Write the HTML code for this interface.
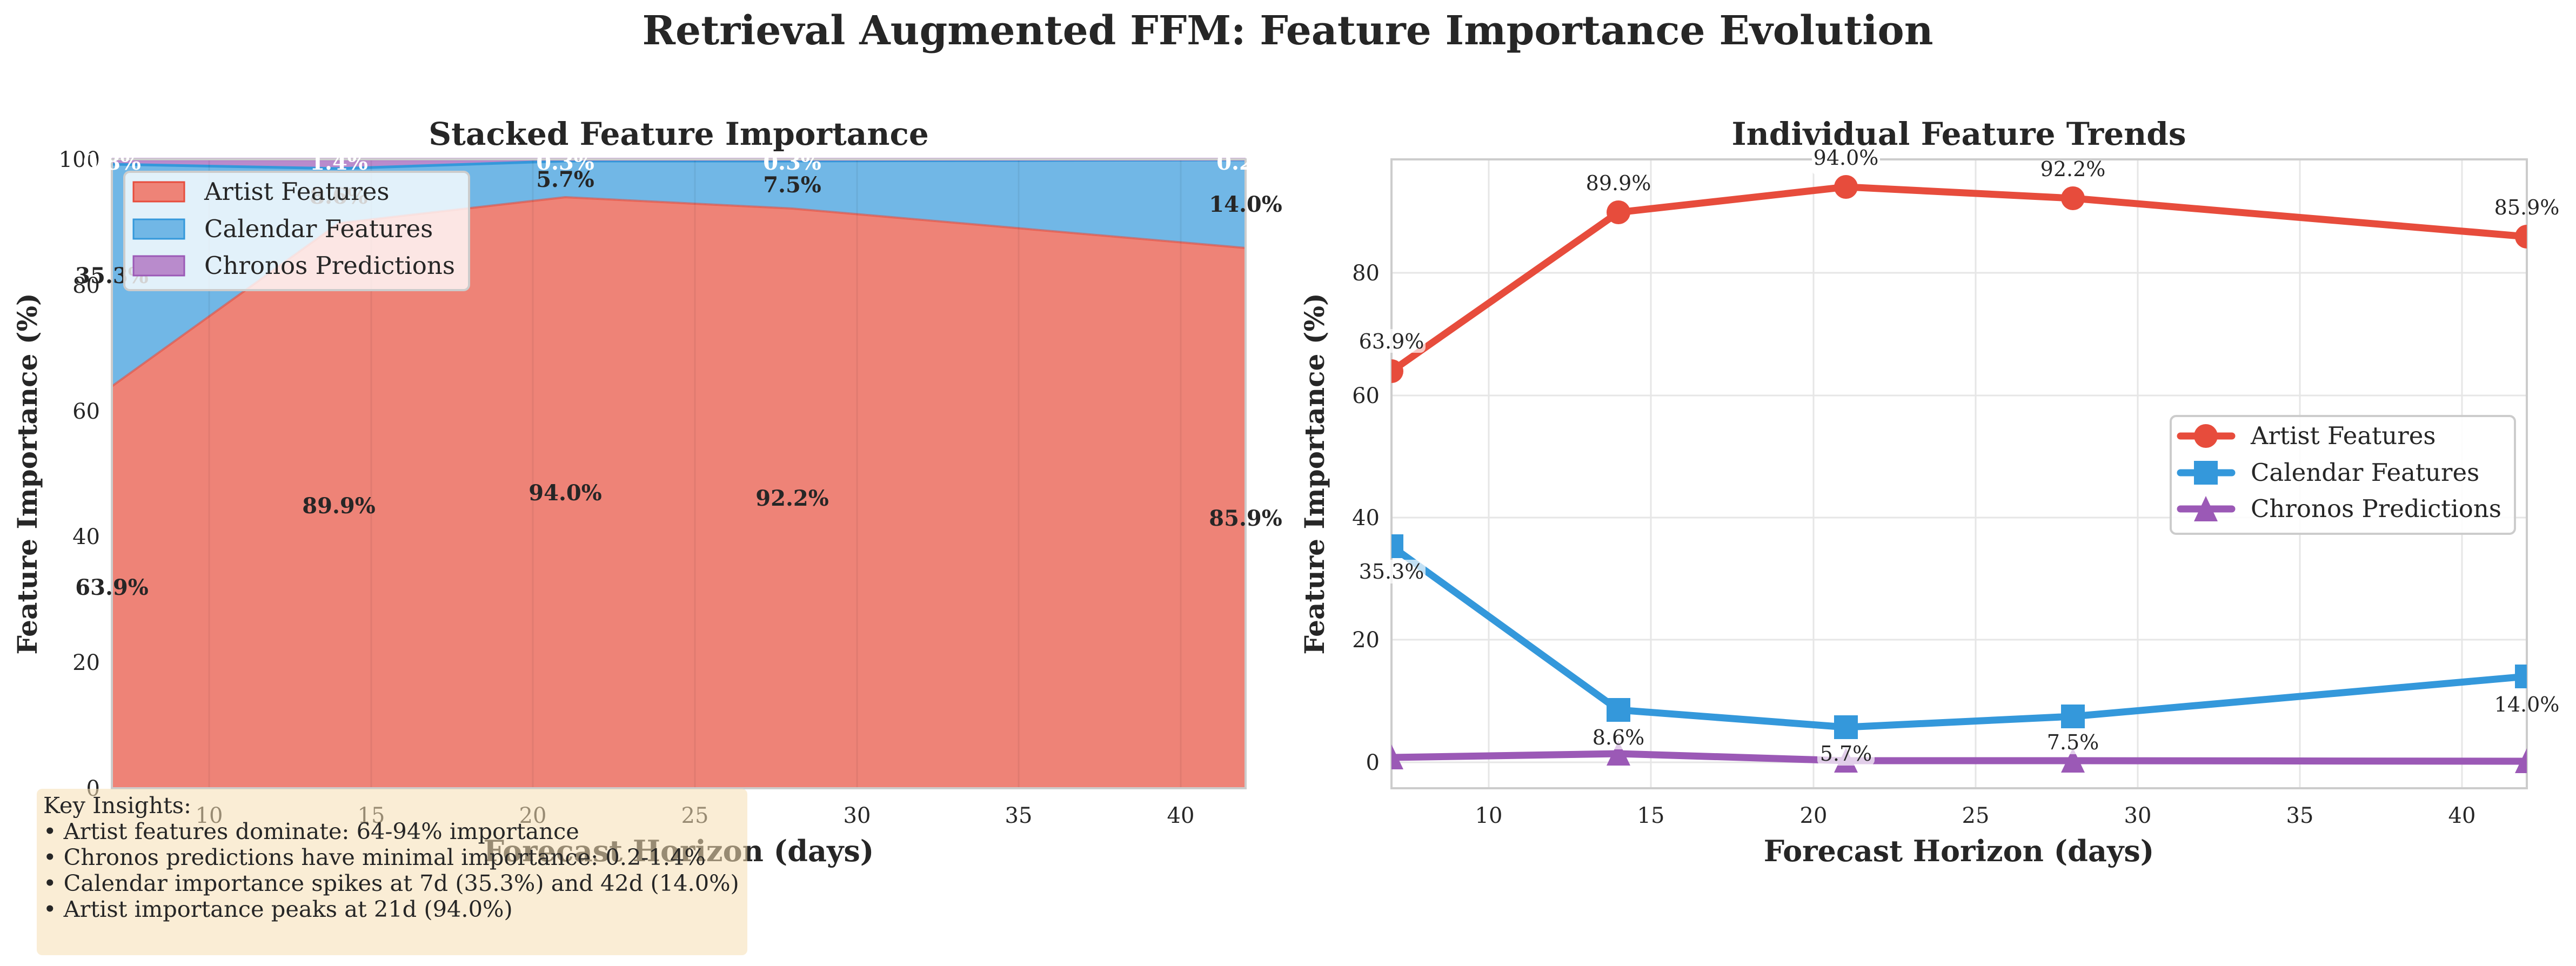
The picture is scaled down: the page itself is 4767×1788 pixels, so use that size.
<!DOCTYPE html>
<html><head><meta charset="utf-8"><style>
html,body{margin:0;padding:0;background:#fff}
svg{display:block}
text{font-family:"DejaVu Serif","Liberation Serif",serif;fill:#262626}
</style></head><body>
<svg width="4767" height="1788" viewBox="0 0 4767 1788" xmlns="http://www.w3.org/2000/svg">
<rect width="4767" height="1788" fill="#fff"/>
<text x="2383" y="82" font-size="74" font-weight="bold" text-anchor="middle">Retrieval Augmented FFM: Feature Importance Evolution</text>

<!-- LEFT -->
<text x="1256" y="268" font-size="58" font-weight="bold" text-anchor="middle">Stacked Feature Importance</text>
<rect x="207" y="295" width="2098" height="1164" fill="#fff"/>
<polygon points="207,1459 207,715 627,413 1046,365 1466,386 2305,459 2305,1459" fill="#ee8377"/>
<polygon points="207,715 627,413 1046,365 1466,386 2305,459 2305,296 1466,298 1046,298 627,312 207,304" fill="#71b7e6"/>
<polygon points="207,304 627,312 1046,298 1466,298 2305,296 2305,295 207,295" fill="#b98bcc"/>
<polyline points="207,715 627,413 1046,365 1466,386 2305,459" fill="none" stroke="#e74c3c" stroke-width="4" opacity="0.6"/>
<polyline points="207,304 627,312 1046,298 1466,298 2305,296" fill="none" stroke="#3498db" stroke-width="5"/>
<polyline points="207,295 2305,295" fill="none" stroke="#9b59b6" stroke-width="5"/>
<g stroke="#000" stroke-opacity="0.06" stroke-width="3">
<line x1="387" y1="295" x2="387" y2="1459"/><line x1="687" y1="295" x2="687" y2="1459"/><line x1="986" y1="295" x2="986" y2="1459"/><line x1="1286" y1="295" x2="1286" y2="1459"/><line x1="1586" y1="295" x2="1586" y2="1459"/><line x1="1885" y1="295" x2="1885" y2="1459"/><line x1="2185" y1="295" x2="2185" y2="1459"/>
</g>
<rect x="207" y="295" width="2098" height="1164" fill="none" stroke="#ccc" stroke-width="4"/>
<g font-size="40" text-anchor="end">
<text x="185" y="1473">0</text><text x="185" y="1240">20</text><text x="185" y="1007">40</text><text x="185" y="775">60</text><text x="185" y="542">80</text><text x="185" y="309">100</text>
</g>
<g font-size="40" text-anchor="middle">
<text x="387" y="1523">10</text><text x="687" y="1523">15</text><text x="986" y="1523">20</text><text x="1286" y="1523">25</text><text x="1586" y="1523">30</text><text x="1885" y="1523">35</text><text x="2185" y="1523">40</text>
</g>
<text x="1256" y="1594" font-size="54" font-weight="bold" text-anchor="middle">Forecast Horizon (days)</text>
<text transform="translate(68,877) rotate(-90)" font-size="50" font-weight="bold" text-anchor="middle">Feature Importance (%)</text>
<g font-size="40" font-weight="bold" text-anchor="middle">
<text x="207" y="1101">63.9%</text><text x="627" y="950">89.9%</text><text x="1046" y="926">94.0%</text><text x="1466" y="936">92.2%</text><text x="2305" y="973">85.9%</text>
<text x="207" y="524">35.3%</text><text x="627" y="377">8.6%</text><text x="1046" y="346">5.7%</text><text x="1466" y="356">7.5%</text><text x="2305" y="392">14.0%</text>
</g>
<g font-size="40" font-weight="bold" text-anchor="middle">
<text x="207" y="314" style="fill:#fff">0.8%</text><text x="627" y="314" style="fill:#fff">1.4%</text><text x="1046" y="314" style="fill:#fff">0.3%</text><text x="1466" y="314" style="fill:#fff">0.3%</text><text x="2305" y="314" style="fill:#fff">0.2%</text>
</g>
<rect x="230" y="318" width="638" height="219" rx="10" fill="#fff" fill-opacity="0.8" stroke="#ccc" stroke-width="4"/>
<rect x="247" y="337" width="94" height="36" fill="#ee8377" stroke="#e74c3c" stroke-width="3"/>
<rect x="247" y="406" width="94" height="36" fill="#71b7e6" stroke="#3498db" stroke-width="3"/>
<rect x="247" y="474" width="94" height="36" fill="#b98bcc" stroke="#9b59b6" stroke-width="3"/>
<g font-size="45"><text x="378" y="370">Artist Features</text><text x="378" y="439">Calendar Features</text><text x="378" y="507">Chronos Predictions</text></g>
<rect x="68" y="1460" width="1315" height="308" rx="10" fill="#f5deb3" fill-opacity="0.55"/>
<g font-size="41.5"><text x="80" y="1505">Key Insights:</text>
<text x="80" y="1553">• Artist features dominate: 64-94% importance</text>
<text x="80" y="1601">• Chronos predictions have minimal importance: 0.2-1.4%</text>
<text x="80" y="1649">• Calendar importance spikes at 7d (35.3%) and 42d (14.0%)</text>
<text x="80" y="1697">• Artist importance peaks at 21d (94.0%)</text></g>

<!-- RIGHT -->
<text x="3625" y="268" font-size="58" font-weight="bold" text-anchor="middle">Individual Feature Trends</text>
<g stroke="#e6e6e6" stroke-width="3">
<line x1="2575" y1="1411" x2="4676" y2="1411"/><line x1="2575" y1="1184" x2="4676" y2="1184"/><line x1="2575" y1="958" x2="4676" y2="958"/><line x1="2575" y1="732" x2="4676" y2="732"/><line x1="2575" y1="505" x2="4676" y2="505"/>
<line x1="2755" y1="295" x2="2755" y2="1459"/><line x1="3055" y1="295" x2="3055" y2="1459"/><line x1="3356" y1="295" x2="3356" y2="1459"/><line x1="3656" y1="295" x2="3656" y2="1459"/><line x1="3956" y1="295" x2="3956" y2="1459"/><line x1="4256" y1="295" x2="4256" y2="1459"/><line x1="4556" y1="295" x2="4556" y2="1459"/>
</g>
<rect x="2575" y="295" width="2101" height="1164" fill="none" stroke="#ccc" stroke-width="4"/>
<g font-size="40" text-anchor="end">
<text x="2553" y="1425">0</text><text x="2553" y="1198">20</text><text x="2553" y="972">40</text><text x="2553" y="746">60</text><text x="2553" y="519">80</text>
</g>
<g font-size="40" text-anchor="middle">
<text x="2755" y="1523">10</text><text x="3055" y="1523">15</text><text x="3356" y="1523">20</text><text x="3656" y="1523">25</text><text x="3956" y="1523">30</text><text x="4256" y="1523">35</text><text x="4556" y="1523">40</text>
</g>
<text x="3625" y="1594" font-size="54" font-weight="bold" text-anchor="middle">Forecast Horizon (days)</text>
<text transform="translate(2450,877) rotate(-90)" font-size="50" font-weight="bold" text-anchor="middle">Feature Importance (%)</text>
<svg x="2575" y="295" width="2101" height="1164" overflow="hidden">
<g transform="translate(-2575,-295)">
<polyline points="2575,687 2995,393 3416,346 3836,367 4676,438" fill="none" stroke="#e74c3c" stroke-width="13" stroke-linejoin="round"/>
<polyline points="2575,1011 2995,1314 3416,1346 3836,1326 4676,1252" fill="none" stroke="#3498db" stroke-width="13" stroke-linejoin="round"/>
<polyline points="2575,1402 2995,1395 3416,1408 3836,1408 4676,1409" fill="none" stroke="#9b59b6" stroke-width="13" stroke-linejoin="round"/>
<g fill="#e74c3c"><circle cx="2575" cy="687" r="22"/><circle cx="2995" cy="393" r="22"/><circle cx="3416" cy="346" r="22"/><circle cx="3836" cy="367" r="22"/><circle cx="4676" cy="438" r="22"/></g>
<g fill="#3498db"><rect x="2553" y="989" width="44" height="44"/><rect x="2973" y="1292" width="44" height="44"/><rect x="3394" y="1324" width="44" height="44"/><rect x="3814" y="1304" width="44" height="44"/><rect x="4654" y="1230" width="44" height="44"/></g>
<g fill="#9b59b6"><polygon points="2575,1378 2597,1424 2553,1424"/><polygon points="2995,1371 3017,1417 2973,1417"/><polygon points="3416,1384 3438,1430 3394,1430"/><polygon points="3836,1384 3858,1430 3814,1430"/><polygon points="4676,1385 4698,1431 4654,1431"/></g>
</g></svg>
<g font-size="38" text-anchor="middle">
<rect x="2512" y="609" width="126" height="44" rx="10" fill="#fff" fill-opacity="0.7"/><text x="2575" y="645">63.9%</text>
<text x="2995" y="352">89.9%</text>
<rect x="3353" y="280" width="126" height="44" rx="10" fill="#fff"/><text x="3416" y="305">94.0%</text>
<rect x="3773" y="300" width="126" height="44" rx="10" fill="#fff"/><text x="3836" y="326">92.2%</text>
<text x="4676" y="397">85.9%</text>
<rect x="2512" y="1036" width="126" height="44" rx="10" fill="#fff" fill-opacity="0.7"/><text x="2575" y="1071">35.3%</text>
<rect x="2942" y="1343" width="106" height="44" rx="10" fill="#fff" fill-opacity="0.7"/><text x="2995" y="1378">8.6%</text>
<rect x="3363" y="1373" width="106" height="44" rx="10" fill="#fff" fill-opacity="0.7"/><text x="3416" y="1408">5.7%</text>
<rect x="3783" y="1352" width="106" height="44" rx="10" fill="#fff" fill-opacity="0.7"/><text x="3836" y="1387">7.5%</text>
<text x="4676" y="1317">14.0%</text>
</g>
<rect x="4017" y="770" width="637" height="218" rx="10" fill="#fff" fill-opacity="0.85" stroke="#ccc" stroke-width="4"/>
<line x1="4035" y1="807" x2="4130" y2="807" stroke="#e74c3c" stroke-width="13" stroke-linecap="round"/><circle cx="4082" cy="807" r="22" fill="#e74c3c"/>
<line x1="4035" y1="875" x2="4130" y2="875" stroke="#3498db" stroke-width="13" stroke-linecap="round"/><rect x="4060" y="853" width="44" height="44" fill="#3498db"/>
<line x1="4035" y1="942" x2="4130" y2="942" stroke="#9b59b6" stroke-width="13" stroke-linecap="round"/><polygon points="4082,918 4104,965 4060,965" fill="#9b59b6"/>
<g font-size="45"><text x="4165" y="822">Artist Features</text><text x="4165" y="890">Calendar Features</text><text x="4165" y="957">Chronos Predictions</text></g>
</svg>
</body></html>
